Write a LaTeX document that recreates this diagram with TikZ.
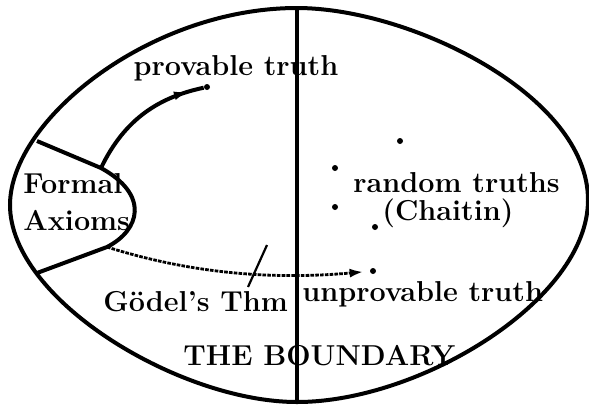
\documentclass[tikz,border=0pt]{standalone}
\usepackage{tikz}
\usetikzlibrary{arrows.meta, decorations.markings}

\begin{document}
\begin{tikzpicture}[
    x=0.5pt, y=-0.5pt,
    every node/.style={font=\Large\bfseries},
    thickline/.style={line width=2pt},
    truthlabel/.style={inner sep=0pt, anchor=base west},
    truthdot/.style={circle, fill=black, inner sep=0pt, minimum size=3pt},
    dotline/.style={line width=1.4pt, dash pattern=on 1.8pt off 0.6pt},
    midarrow/.style={decoration={markings,
        mark=at position #1 with {\arrow{Latex[length=7pt,width=4.5pt]}}},
        postaction={decorate}}
]

\useasboundingbox (0,0) rectangle (589,404);

% outer boundary (eye shape)
\draw[thickline] (297,8)
    .. controls (410,8) and (588,95) .. (588,200)
    .. controls (588,300) and (420,402) .. (297,402)
    .. controls (180,402) and (10,300) .. (10,205)
    .. controls (10,120) and (150,8) .. cycle;

% the boundary line
\coordinate (btop) at (297,8);
\coordinate (bbot) at (297,404);
\draw[line width=1.7pt] (btop) -- (bbot);

% region of the formal axioms
\coordinate (axul) at (37,141);
\coordinate (axtop) at (101,168);
\coordinate (axbot) at (107,247);
\coordinate (axll) at (37,273);
\draw[thickline] (axul) -- (axtop)
    .. controls (150,195) and (140,230) .. (axbot) -- (axll);

% truths
\node[truthdot] (pdot) at (207,87) {};
\node[truthdot, outer sep=3.2pt] (udot) at (373,271) {};
\node[truthdot] (rdot1) at (400,141) {};
\node[truthdot] (rdot2) at (335,168) {};
\node[truthdot] (rdot3) at (335,207) {};
\node[truthdot] (rdot4) at (375,227) {};

% arrows
\draw[thickline, midarrow=0.88] (axtop) .. controls (125,118) and (160,97) .. (pdot);
\draw[dotline, -{Latex[length=7pt,width=4.5pt]}] (axbot)
    .. controls (180,270) and (260,281) .. (udot);

% Goedel slash
\coordinate (gtop) at (267,245);
\coordinate (gbot) at (248,287);
\draw[line width=1.1pt] (gtop) -- (gbot);

% labels
\node[inner sep=0pt, anchor=base] (provable) at (236,75) {provable truth};
\node[truthlabel] (formal) at (23,193) {Formal};
\node[truthlabel] (axioms) at (23,230) {Axioms};
\node[truthlabel] (random) at (353,192) {random truths};
\node[truthlabel] (chaitin) at (382,220) {(Chaitin)};
\node[truthlabel] (unprov) at (302,301) {unprovable truth};
\node[truthlabel] (goedel) at (103,311) {G\"odel's Thm};
\node[truthlabel] (bound) at (183,365) {THE BOUNDARY};

\end{tikzpicture}
\end{document}
